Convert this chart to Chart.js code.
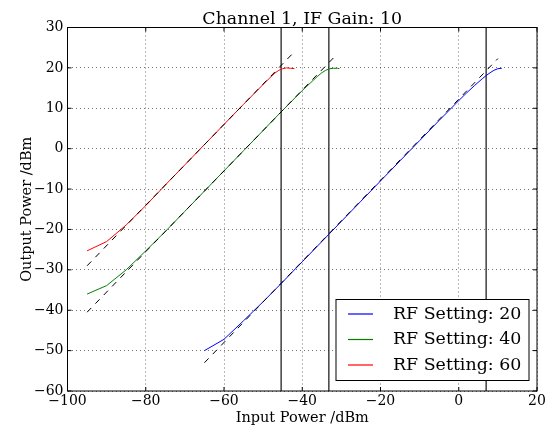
<!DOCTYPE html>
<html>
<head>
<meta charset="utf-8">
<script src="https://cdn.jsdelivr.net/npm/chart.js@4/dist/chart.umd.min.js"></script>
<style>
    html, body { margin: 0; padding: 0; background: #fff; }
    #wrap { width: 549px; height: 426px; }
</style>
</head>
<body>
<div id="wrap"><canvas id="chart" width="549" height="426"></canvas></div>
<script>
// RF settings (one curve each)
const RF_SETTINGS = [20, 40, 60];
const COLORS = ['#0000ff', '#008000', '#ff0000'];

// Measured curves
const X_RF20 = [-65, -60, -55, -50, -45, -40, -35, -30, -25, -20, -15, -10, -5, 0, 2, 4, 6, 7, 8, 9, 10, 11];
const Y_RF20 = [-50.0, -47.2, -42.6, -37.9, -33.0, -28.0, -23.0, -18.0, -13.0, -8.0, -3.0, 2.0, 7.0, 11.9, 13.8, 15.6, 17.3, 18.1, 18.8, 19.4, 19.8, 19.9];

const X_RF40 = [-95, -90, -85, -80, -75, -70, -65, -60, -55, -50, -45, -40, -38, -37, -36, -35, -34, -33, -32, -31, -30.5];
const Y_RF40 = [-36.0, -33.9, -30.0, -25.3, -20.5, -15.5, -10.5, -5.5, -0.5, 4.5, 9.5, 14.4, 16.2, 17.1, 18.0, 18.8, 19.4, 19.8, 19.9, 19.9, 19.8];

const X_RF60 = [-95, -90, -85, -80, -75, -70, -65, -60, -55, -50, -48, -47, -46, -45, -44, -43, -42];
const Y_RF60 = [-25.3, -23.0, -18.9, -14.1, -9.0, -4.0, 1.0, 6.0, 11.0, 15.9, 17.8, 18.7, 19.4, 19.8, 20.0, 19.9, 19.8];

// Linear fits (dashed), two end points each
const FIT_X = [[-65, 10], [-95, -31.5], [-95, -42.5]];
const FIT_Y = [[-53, 22.3], [-40.5, 23.0], [-29, 23.5]];

// Compression markers (vertical lines)
const MARK_X = [7.0, -33.2, -45.4];

// Axes
const X_MIN = -100, X_MAX = 20, X_STEP = 20;
const Y_MIN = -60, Y_MAX = 30, Y_STEP = 10;

const TITLE = 'Channel 1, IF Gain: 10';
const X_LABEL = 'Input Power /dBm';
const Y_LABEL = 'Output Power /dBm';

const FONT = 'DejaVu Serif';

const pts = (xs, ys) => xs.map((x, i) => ({ x: x, y: ys[i] }));
const minus = v => String(v).replace('-', '\u2212');

const SERIES_X = [X_RF20, X_RF40, X_RF60];
const SERIES_Y = [Y_RF20, Y_RF40, Y_RF60];

function build_datasets() {
    const sets = [];
    RF_SETTINGS.forEach((rf, i) => {
        sets.push({
            label: 'RF Setting: ' + rf,
            data: pts(SERIES_X[i], SERIES_Y[i]),
            borderColor: COLORS[i],
            borderWidth: 1,
            order: 2,
            legend: true
        });
    });
    FIT_X.forEach((xs, i) => {
        sets.push({
            label: 'fit',
            data: pts(xs, FIT_Y[i]),
            borderColor: '#000',
            borderWidth: 1,
            borderDash: [6, 6],
            order: 1
        });
    });
    MARK_X.forEach(x => {
        sets.push({
            label: 'mark',
            data: [{ x: x, y: Y_MIN }, { x: x, y: Y_MAX }],
            borderColor: '#222',
            borderWidth: 1.3,
            order: 3
        });
    });
    return sets;
}

// title, frame, inward ticks and legend box
const framePlugin = {
    id: 'frame',
    afterDraw(chart) {
        const { ctx, chartArea: a, scales } = chart;
        ctx.save();

        ctx.fillStyle = '#000';
        ctx.font = '17.4px "' + FONT + '"';
        ctx.textAlign = 'center';
        ctx.textBaseline = 'alphabetic';
        ctx.fillText(TITLE, (a.left + a.right) / 2, 23.5);

        ctx.strokeStyle = '#000';
        ctx.lineWidth = 1;
        ctx.strokeRect(a.left, a.top, a.right - a.left, a.bottom - a.top);

        const TL = 4;
        ctx.beginPath();
        for (let v = X_MIN; v <= X_MAX; v += X_STEP) {
            const px = scales.x.getPixelForValue(v);
            ctx.moveTo(px, a.bottom); ctx.lineTo(px, a.bottom - TL);
            ctx.moveTo(px, a.top); ctx.lineTo(px, a.top + TL);
        }
        for (let v = Y_MIN; v <= Y_MAX; v += Y_STEP) {
            const py = scales.y.getPixelForValue(v);
            ctx.moveTo(a.left, py); ctx.lineTo(a.left + TL, py);
            ctx.moveTo(a.right, py); ctx.lineTo(a.right - TL, py);
        }
        ctx.stroke();

        // legend
        const bx = 336, by = 299.5, bw = 193, bh = 81;
        ctx.fillStyle = '#fff';
        ctx.fillRect(bx, by, bw, bh);
        ctx.strokeRect(bx, by, bw, bh);
        ctx.font = '17.4px "' + FONT + '"';
        ctx.textBaseline = 'middle';
        ctx.textAlign = 'left';
        const entries = chart.data.datasets.filter(d => d.legend);
        entries.forEach((d, i) => {
            const y = by + 14.5 + i * 25.5;
            ctx.strokeStyle = d.borderColor;
            ctx.lineWidth = 1.2;
            ctx.beginPath();
            ctx.moveTo(348, y); ctx.lineTo(373, y);
            ctx.stroke();
            ctx.fillStyle = '#000';
            ctx.fillText(d.label, 393, y);
        });
        ctx.restore();
    }
};

window.onload = () => {
    new Chart(document.getElementById('chart'), {
        type: 'scatter',
        data: { datasets: build_datasets() },
        options: {
            responsive: false,
            animation: false,
            showLine: true,
            elements: { point: { radius: 0, hoverRadius: 0 }, line: { tension: 0 } },
            layout: { padding: { left: 0, right: 12, top: 27.5, bottom: 0 } },
            plugins: {
                legend: { display: false },
                tooltip: { enabled: false },
                title: { display: false }
            },
            scales: {
                x: {
                    type: 'linear',
                    min: X_MIN, max: X_MAX,
                    afterFit: s => { s.height = 35; },
                    ticks: {
                        stepSize: X_STEP,
                        color: '#000',
                        padding: 2,
                        font: { family: FONT, size: 14 },
                        callback: v => minus(v)
                    },
                    grid: { color: 'rgba(0,0,0,0.55)', lineWidth: 1, drawTicks: false },
                    border: { display: false, dash: [1, 3] },
                    title: {
                        display: true, text: X_LABEL, color: '#000',
                        font: { family: FONT, size: 14.5, lineHeight: 1.1 },
                        padding: { top: 0, bottom: 0 }
                    }
                },
                y: {
                    type: 'linear',
                    min: Y_MIN, max: Y_MAX,
                    afterFit: s => { s.width = 67.5; },
                    ticks: {
                        stepSize: Y_STEP,
                        color: '#000',
                        padding: 4,
                        font: { family: FONT, size: 14 },
                        callback: v => minus(v)
                    },
                    grid: { color: 'rgba(0,0,0,0.55)', lineWidth: 1, drawTicks: false },
                    border: { display: false, dash: [1, 3] },
                    title: {
                        display: true, text: Y_LABEL, color: '#000',
                        font: { family: FONT, size: 14.5, lineHeight: 1.2 },
                        padding: { top: 19, bottom: 0 }
                    }
                }
            }
        },
        plugins: [framePlugin]
    });
};
</script>
</body>
</html>
